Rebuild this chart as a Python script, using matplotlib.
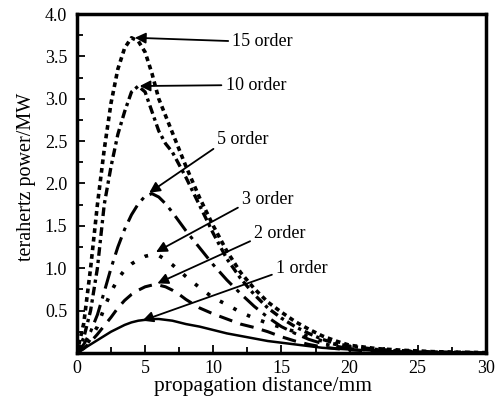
import matplotlib
matplotlib.use("Agg")
import matplotlib.pyplot as plt
from matplotlib.ticker import MultipleLocator

plt.rcParams['font.family'] = ['Liberation Serif', 'DejaVu Serif']

distance = [0, 0.5, 1, 1.5, 2, 2.5, 3, 3.5, 4, 4.5, 5, 5.5, 6, 6.5, 7, 7.5, 8,
            9, 10, 11, 12, 13, 14, 15, 16, 17, 18, 19, 20, 22, 24, 26, 28, 30]

order15 = [0, 0.35, 1.0, 1.75, 2.4, 2.95, 3.35, 3.6, 3.72, 3.68, 3.55, 3.3, 3.0,
           2.8, 2.6, 2.4, 2.2, 1.83, 1.5, 1.2, 0.95, 0.76, 0.6, 0.48, 0.37,
           0.28, 0.2, 0.14, 0.09, 0.05, 0.03, 0.015, 0.008, 0.003]
order10 = [0, 0.18, 0.5, 1.0, 1.75, 2.2, 2.58, 2.85, 3.08, 3.15, 3.08, 2.85, 2.62,
           2.47, 2.37, 2.22, 2.07, 1.74, 1.41, 1.11, 0.88, 0.69, 0.53, 0.41, 0.31,
           0.23, 0.16, 0.11, 0.08, 0.04, 0.025, 0.012, 0.006, 0.002]
order5 = [0, 0.1, 0.25, 0.45, 0.72, 1.0, 1.25, 1.46, 1.63, 1.76, 1.85, 1.88, 1.84,
          1.76, 1.66, 1.55, 1.44, 1.24, 1.04, 0.86, 0.7, 0.55, 0.42, 0.31, 0.23,
          0.16, 0.11, 0.08, 0.05, 0.025, 0.012, 0.006, 0.003, 0.001]
order3 = [0, 0.05, 0.17, 0.31, 0.53, 0.72, 0.87, 0.98, 1.05, 1.1, 1.14, 1.16, 1.15,
          1.1, 1.04, 0.97, 0.9, 0.77, 0.65, 0.57, 0.48, 0.41, 0.35, 0.3, 0.25,
          0.19, 0.14, 0.1, 0.07, 0.035, 0.017, 0.008, 0.004, 0.001]
order2 = [0, 0.05, 0.13, 0.22, 0.32, 0.42, 0.53, 0.62, 0.69, 0.74, 0.78, 0.8, 0.8,
          0.78, 0.74, 0.69, 0.63, 0.53, 0.46, 0.4, 0.34, 0.3, 0.25, 0.19, 0.14,
          0.1, 0.07, 0.05, 0.035, 0.018, 0.009, 0.004, 0.002, 0.001]
order1 = [0, 0.05, 0.1, 0.15, 0.2, 0.25, 0.29, 0.33, 0.36, 0.38, 0.39, 0.4, 0.4,
          0.39, 0.38, 0.36, 0.34, 0.31, 0.27, 0.23, 0.2, 0.17, 0.14, 0.12, 0.1,
          0.08, 0.06, 0.05, 0.04, 0.025, 0.015, 0.008, 0.004, 0.002]

labels = ["15 order", "10 order", "5 order", "3 order", "2 order", "1 order"]
label_pos = [(11.4, 3.68), (10.9, 3.16), (10.3, 2.52), (12.1, 1.81), (13.0, 1.41), (14.6, 1.0)]
arrow_tip = [(4.25, 3.72), (4.6, 3.15), (5.3, 1.89), (5.8, 1.19), (5.9, 0.82), (4.8, 0.38)]
label_relpos = [(0, 0.5), (0, 0.5), (0, 0.1), (0, 0.15), (0, 0.15), (0, 0.2)]

fig = plt.figure(figsize=(5.03, 4.01), dpi=100)
ax = fig.add_axes([0.153, 0.12, 0.813, 0.845])

styles = [
    dict(ls=(0, (1.3, 1.1)), lw=2.6),
    dict(ls=(0, (2.6, 1.2, 1.0, 1.2)), lw=2.4),
    dict(ls=(0, (6, 2.2, 1.2, 2.2)), lw=2.2),
    dict(ls=(0, (1.0, 3.2)), lw=2.6),
    dict(ls=(0, (4.5, 2.8)), lw=2.2),
    dict(ls='-', lw=1.8),
]
series = [order15, order10, order5, order3, order2, order1]
for ys, st in zip(series, styles):
    ax.plot(distance, ys, color='black', linestyle=st['ls'], linewidth=st['lw'])

for lab, pos, tip, rp in zip(labels, label_pos, arrow_tip, label_relpos):
    ax.annotate(lab, xy=tip, xytext=pos, ha='left', va='center', fontsize=13,
                arrowprops=dict(arrowstyle='-|>', color='black', lw=1.3,
                                mutation_scale=16, shrinkA=1, shrinkB=0,
                                relpos=rp))

ax.set_xlim(0, 30)
ax.set_ylim(0, 4.0)
ax.xaxis.set_major_locator(MultipleLocator(5))
ax.xaxis.set_minor_locator(MultipleLocator(2.5))
ax.yaxis.set_minor_locator(MultipleLocator(0.25))
ax.set_yticks([0.5, 1.0, 1.5, 2.0, 2.5, 3.0, 3.5, 4.0])
ax.set_yticklabels(["0.5", "1.0", "1.5", "2.0", "2.5", "3.0", "3.5", "4.0"])
ax.tick_params(which='both', direction='in', top=False, right=False, labelsize=13,
               width=1.3)
ax.tick_params(which='major', length=6)
ax.tick_params(which='minor', length=4)
ax.tick_params(axis='y', pad=7)
ax.tick_params(axis='x', pad=5)
for sp in ax.spines.values():
    sp.set_linewidth(2.5)

ax.set_xlabel("propagation distance/mm", fontsize=15.5, labelpad=0)
ax.xaxis.set_label_coords(0.455, -0.07)
ax.set_ylabel("terahertz power/MW", fontsize=14.5, labelpad=6)
ax.yaxis.set_label_coords(-0.1, 0.52)

fig.savefig("out.png", dpi=100)
